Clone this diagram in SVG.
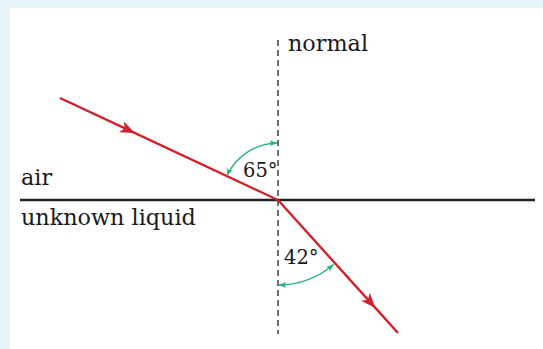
<svg xmlns="http://www.w3.org/2000/svg" width="543" height="349" viewBox="0 0 543 349">
<defs>
<style>
text{font-family:"DejaVu Serif","Liberation Serif",serif;font-size:22.3px;fill:#1a1a1a}
text.ang{font-size:19.5px}
.ray{stroke:#d0232a;stroke-width:2.4;fill:none}
.arc{stroke:#2bb57a;stroke-width:1.4;fill:none}
</style>
<marker id="rh" viewBox="0 0 15 12" refX="13" refY="6" markerWidth="15" markerHeight="12" markerUnits="userSpaceOnUse" orient="auto">
<path d="M0,0 L15,6 L0,12 L4,6 z" fill="#d0232a"/>
</marker>
<marker id="gh" viewBox="0 0 8 6" refX="7.5" refY="3" markerWidth="8" markerHeight="6" markerUnits="userSpaceOnUse" orient="auto-start-reverse">
<path d="M0,0 L8,3 L0,6 L2,3 z" fill="#2bb57a"/>
</marker>
</defs>
<rect width="543" height="349" fill="#e8f4fa"/>
<rect x="10" y="8" width="533" height="341" fill="#ffffff"/>
<g id="connectors">
<line id="normal-line" x1="278" y1="40" x2="278" y2="334" stroke="#222" stroke-width="1.3" stroke-dasharray="6,4"/>
<line id="interface" x1="20" y1="200" x2="535" y2="200" stroke="#222" stroke-width="2.5"/>
<path id="incident" class="ray" d="M60,98 L133,132.2 L278,200" marker-mid="url(#rh)"/>
<path id="refracted" class="ray" d="M278,200 L374,306.4 L398,333" marker-mid="url(#rh)"/>
<path id="arc65" class="arc" d="M227,175.5 A57,57 0 0,1 277,143" marker-start="url(#gh)" marker-end="url(#gh)"/>
<path id="arc42" class="arc" d="M279,285 A85,85 0 0,0 333.5,264.5" marker-start="url(#gh)" marker-end="url(#gh)"/>
</g>
<g id="label-normal"><text x="288" y="51">normal</text></g>
<g id="label-air"><text x="21" y="185">air</text></g>
<g id="label-liquid"><text x="21" y="225">unknown liquid</text></g>
<g id="label-65"><text class="ang" x="243" y="177">65°</text></g>
<g id="label-42"><text class="ang" x="284" y="264">42°</text></g>
</svg>
